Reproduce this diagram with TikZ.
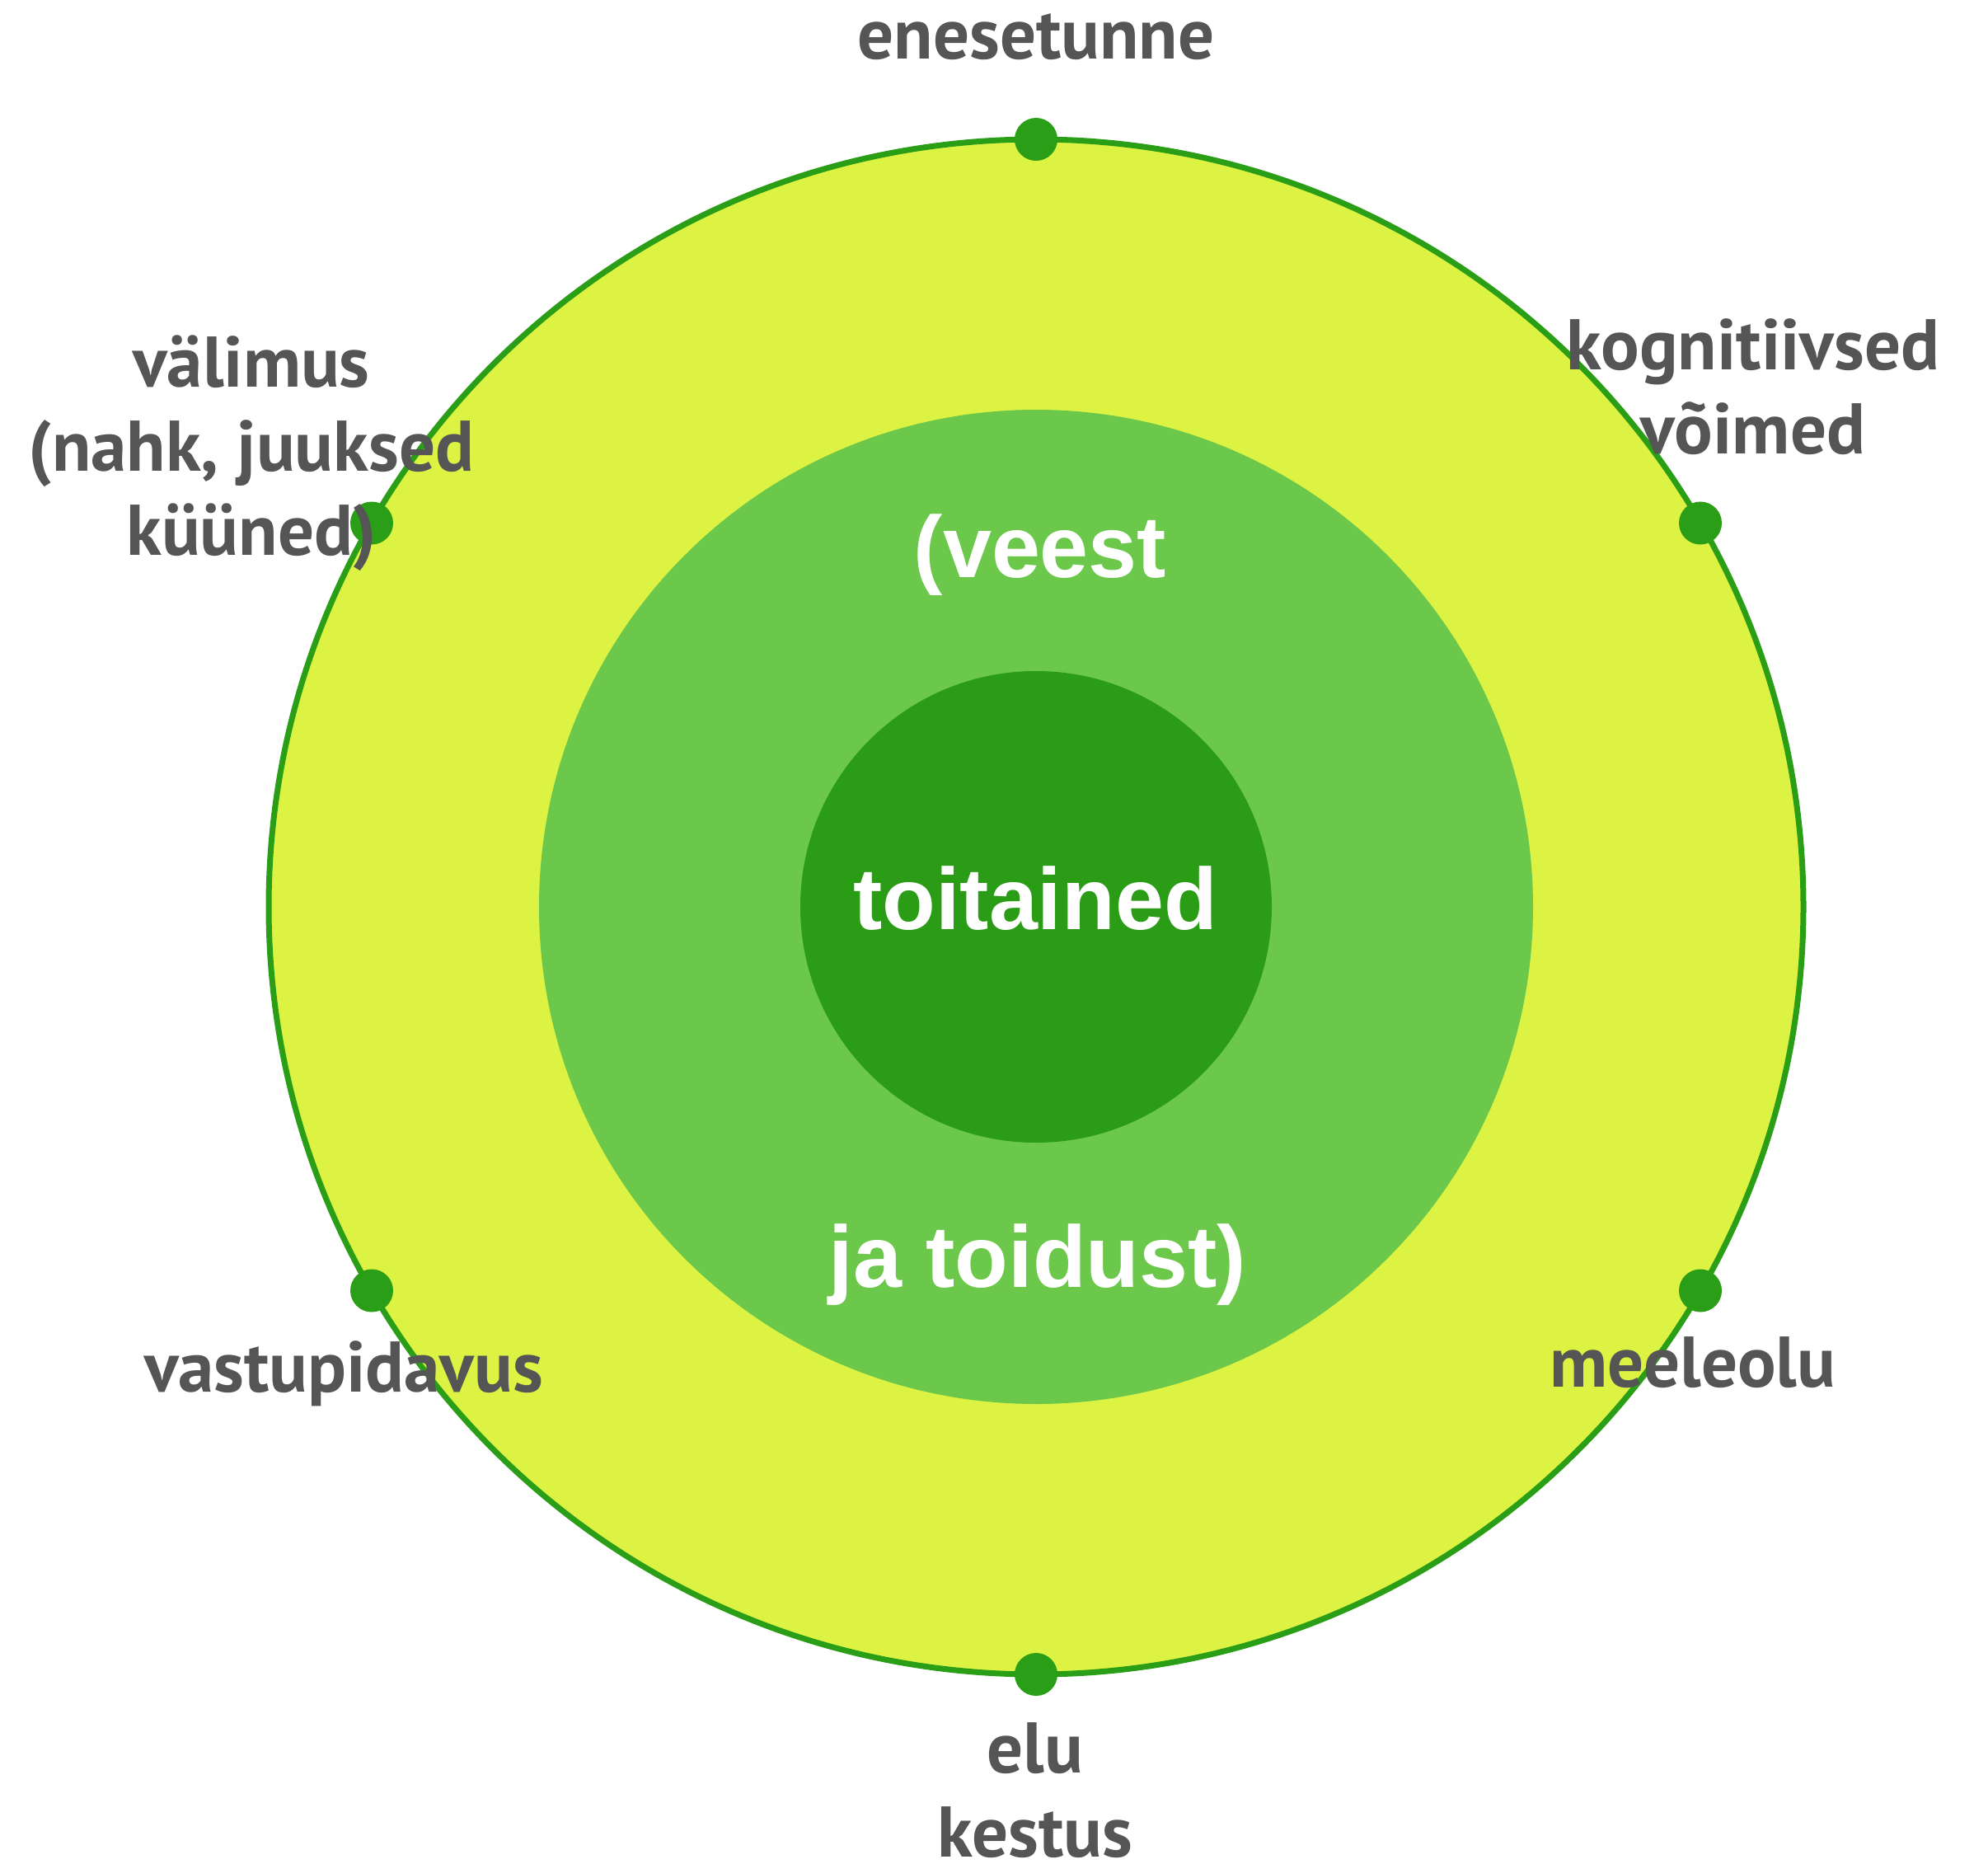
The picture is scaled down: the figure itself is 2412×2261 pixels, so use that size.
\documentclass[tikz,border=0pt]{standalone}
\usepackage{fontspec}
\setmainfont{PT Sans}
\newfontfamily\arialfont{Liberation Sans}
\definecolor{outerfill}{HTML}{DCF343}
\definecolor{ringline}{HTML}{2A9E16}
\definecolor{midfill}{HTML}{6CC84A}
\definecolor{innerfill}{HTML}{2B9C16}
\definecolor{labelgray}{HTML}{555555}
\tikzset{
  dotn/.style={circle, fill=ringline, minimum size=52pt, inner sep=0pt},
  outlabel/.style={text=labelgray, font=\bfseries\fontsize{87}{102}\selectfont, align=center, inner sep=0pt, anchor=base},
  inlabel/.style={text=white, font=\arialfont\bfseries\fontsize{106}{120}\selectfont, inner sep=0pt, anchor=base},
}
\begin{document}
\begin{tikzpicture}[x=1pt,y=-1pt]
\useasboundingbox (0,0) rectangle (2412,2261);
\coordinate (c) at (1257,1100);
\draw[fill=outerfill, draw=ringline, line width=7pt] (c) circle (931);
\fill[midfill] (c) circle (603);
\fill[innerfill] (c) circle (286);
\node[dotn] (d1) at (1257,169) {};
\node[dotn] (d2) at (2063,634.5) {};
\node[dotn] (d3) at (2063,1565.5) {};
\node[dotn] (d4) at (1257,2031) {};
\node[dotn] (d5) at (451,1565.5) {};
\node[dotn] (d6) at (451,634.5) {};
\node[inlabel] (veest) at (1262,700) {(veest};
\node[inlabel] (toit) at (1256,1127) {toitained};
\node[inlabel] (toidust) at (1259,1561) {ja toidust)};
\node[outlabel] (l1) at (1257,72) {enesetunne};
\node[outlabel] (l2) at (2127,550) {kognitiivsed\\võimed};
\node[outlabel] (l3) at (2054,1682) {meeleolu};
\node[outlabel] (l4) at (1256,2252) {elu\\kestus};
\node[outlabel] (l5) at (417,1688) {vastupidavus};
\node[outlabel] (l6) at (305,673) {välimus\\(nahk, juuksed\\küüned)};
\end{tikzpicture}
\end{document}
